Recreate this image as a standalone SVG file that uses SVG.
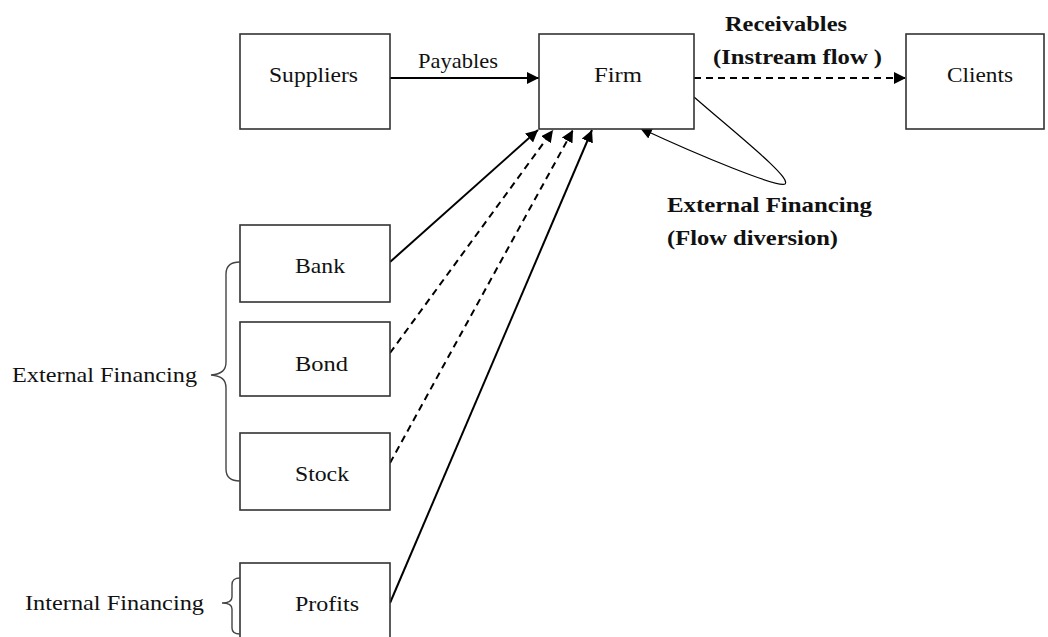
<svg xmlns="http://www.w3.org/2000/svg" width="1048" height="637" viewBox="0 0 1048 637">
<style>
.box{fill:#fff;stroke:#333;stroke-width:1.6}
.t{font-family:"Liberation Serif",serif;font-size:21px;fill:#111}
.b{font-family:"Liberation Serif",serif;font-size:21px;font-weight:bold;fill:#111}
.c{fill:none;stroke:#000;stroke-width:2}
.d{fill:none;stroke:#000;stroke-width:2;stroke-dasharray:7 5}
.br{fill:none;stroke:#444;stroke-width:1.4}
</style>
<defs>
<marker id="ah" viewBox="0 0 10 10" refX="10" refY="5" markerWidth="6" markerHeight="6" orient="auto" markerUnits="strokeWidth">
<path d="M0,0 L10,5 L0,10 z" fill="#000"/>
</marker>
<marker id="ah2" viewBox="0 0 10 10" refX="10" refY="5" markerWidth="10" markerHeight="10" orient="auto" markerUnits="strokeWidth">
<path d="M0,0 L10,5 L0,10 z" fill="#000"/>
</marker>
</defs>
<g id="connectors">
<line class="c" x1="390" y1="78" x2="539" y2="78" marker-end="url(#ah)"/>
<line class="d" x1="694" y1="78" x2="906" y2="78" marker-end="url(#ah)"/>
<line class="c" x1="390" y1="262" x2="538" y2="130" marker-end="url(#ah)"/>
<line class="d" x1="390" y1="353" x2="553" y2="130" marker-end="url(#ah)"/>
<line class="d" x1="390" y1="463" x2="573" y2="130" marker-end="url(#ah)"/>
<line class="c" x1="390" y1="603" x2="592" y2="130" marker-end="url(#ah)"/>
<path fill="none" stroke="#000" stroke-width="1.2" d="M694,97 C740,137 792,178 785,184 C778,188 700,156 640,128" marker-end="url(#ah2)"/>
</g>
<g id="suppliers"><rect class="box" x="240" y="34" width="150" height="95"/><text class="t" x="269" y="82" textLength="89" lengthAdjust="spacingAndGlyphs">Suppliers</text></g>
<g id="firm"><rect class="box" x="539" y="34" width="155" height="95"/><text class="t" x="594" y="82" textLength="48" lengthAdjust="spacingAndGlyphs">Firm</text></g>
<g id="clients"><rect class="box" x="906" y="34" width="138" height="95"/><text class="t" x="947" y="82" textLength="66" lengthAdjust="spacingAndGlyphs">Clients</text></g>
<g id="bank"><rect class="box" x="240" y="225" width="150" height="77"/><text class="t" x="295" y="273" textLength="50" lengthAdjust="spacingAndGlyphs">Bank</text></g>
<g id="bond"><rect class="box" x="240" y="322" width="150" height="74"/><text class="t" x="295" y="371" textLength="53" lengthAdjust="spacingAndGlyphs">Bond</text></g>
<g id="stock"><rect class="box" x="240" y="433" width="150" height="77"/><text class="t" x="295" y="481" textLength="54" lengthAdjust="spacingAndGlyphs">Stock</text></g>
<g id="profits"><rect class="box" x="240" y="563" width="150" height="90"/><text class="t" x="295" y="611" textLength="64" lengthAdjust="spacingAndGlyphs">Profits</text></g>
<g id="labels">
<text class="t" x="418" y="68" textLength="80" lengthAdjust="spacingAndGlyphs">Payables</text>
<text class="b" x="725" y="31" textLength="122" lengthAdjust="spacingAndGlyphs">Receivables</text>
<text class="b" x="713" y="64" textLength="169" lengthAdjust="spacingAndGlyphs">(Instream flow )</text>
<text class="b" x="667" y="212" textLength="205" lengthAdjust="spacingAndGlyphs">External Financing</text>
<text class="b" x="667" y="245" textLength="171" lengthAdjust="spacingAndGlyphs">(Flow diversion)</text>
<text class="t" x="12" y="382" textLength="185" lengthAdjust="spacingAndGlyphs">External Financing</text>
<text class="t" x="25" y="610" textLength="179" lengthAdjust="spacingAndGlyphs">Internal Financing</text>
</g>
<g id="braces">
<path class="br" d="M240,262 C230,262 226,266 226,274 L226,362 C226,370 222,374 211,375 C222,376 226,380 226,388 L226,469 C226,477 230,481 240,481"/>
<path class="br" d="M240,578 C234,578 232,580 232,585 L232,597 C232,601 228,603 222,603 C228,603 232,605 232,609 L232,628 C232,632 234,634 240,634"/>
</g>
</svg>
